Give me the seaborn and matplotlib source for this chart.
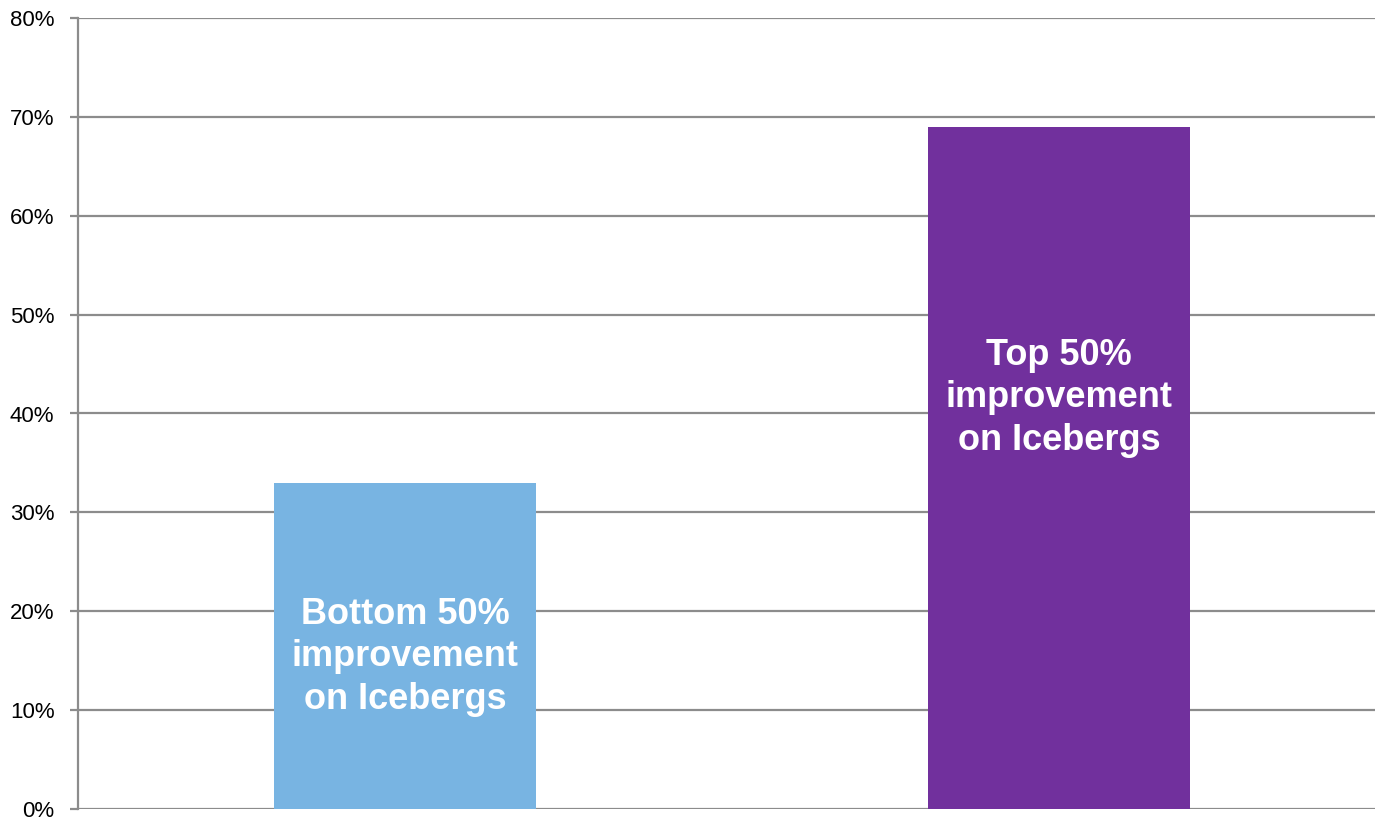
import matplotlib
matplotlib.use("Agg")
import matplotlib.pyplot as plt
import seaborn as sns
import pandas as pd

categories = ["Bottom 50%", "Top 50%"]
values = [33, 69]
bar_labels = ["Bottom 50%\nimprovement\non Icebergs", "Top 50%\nimprovement\non Icebergs"]
colors = ["#78B4E2", "#71309D"]
yticks = [0, 10, 20, 30, 40, 50, 60, 70, 80]

sns.set_style("white")
plt.rcParams["font.family"] = ["Liberation Sans", "DejaVu Sans"]

df = pd.DataFrame({"group": categories, "share": values})

fig = plt.figure(figsize=(13.75, 8.21), dpi=100)
ax = fig.add_axes([78 / 1375, 12 / 821, 1 - 78 / 1375, (809 - 18) / 821])

grid_color = "#8C8C8C"
for t in yticks:
    ax.axhline(t, color=grid_color, linewidth=1.6, zorder=0)

sns.barplot(data=df, x="group", y="share", hue="group", palette=colors,
            width=0.4, legend=False, saturation=1, linewidth=0,
            edgecolor="none", ax=ax, zorder=2)

ax.set_ylim(0, 80)
ax.set_xlim(-0.5, 1.483)
ax.set_yticks(yticks)
ax.set_yticklabels([f"{t}%" for t in yticks], fontsize=16, color="black")
ax.set_xticks([])
ax.set_xlabel("")
ax.set_ylabel("")
ax.tick_params(axis="y", length=6, width=1.6, color=grid_color, pad=11, left=True)

for side in ["top", "right", "bottom"]:
    ax.spines[side].set_visible(False)
ax.spines["left"].set_color(grid_color)
ax.spines["left"].set_linewidth(1.6)

# label text sits inside each bar
label_y = [15.4, 41.6]
for i, (lab, y) in enumerate(zip(bar_labels, label_y)):
    ax.text(i, y, lab, ha="center", va="center", color="white",
            fontsize=26, fontweight="bold", linespacing=1.28, zorder=3)

fig.savefig("out.png", dpi=100)
